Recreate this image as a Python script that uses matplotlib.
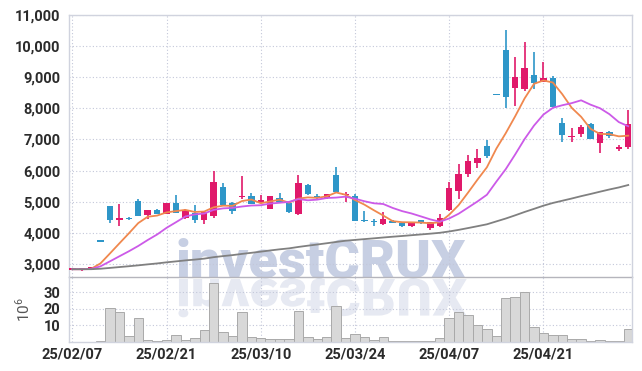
import numpy as np
import pandas as pd
import matplotlib
matplotlib.use('Agg')
import matplotlib.pyplot as plt
from matplotlib.ticker import StrMethodFormatter
from matplotlib.textpath import TextPath
from matplotlib.patches import PathPatch
from matplotlib.font_manager import FontProperties
from matplotlib.transforms import Affine2D

# daily OHLC (KRW)
opens = [2820, 2820, 2800, 3720, 4860, 4420, 4460, 5020, 4575, 4735,
         4610, 4960, 4490, 4640, 4400, 4550, 5480, 4960, 5140, 5170,
         4970, 4770, 5130, 4950, 4610, 5540, 5180, 5110, 5860, 5200,
         5170, 4400, 4350, 4290, 4380, 4330, 4220, 4400, 4170, 4220,
         4735, 5330, 5880, 6240, 6790, 8420, 9875, 8670, 8610, 9070,
         8860, 8960, 7520, 7070, 7180, 7500, 6900, 7250, 6700, 6750]
highs = [2840, 2830, 2890, 3720, 4870, 4930, 4500, 5090, 4740, 4780,
         4960, 5220, 4770, 4900, 4700, 5990, 5600, 4990, 5840, 5270,
         5220, 5190, 5290, 5000, 5860, 5560, 5260, 5250, 6110, 5300,
         5240, 4700, 4430, 4680, 4400, 4340, 4360, 4410, 4350, 4600,
         5640, 6200, 6500, 6700, 6980, 8420, 10520, 9660, 10140, 9800,
         9500, 9040, 7680, 7380, 7480, 7520, 7240, 7260, 6820, 7950]
lows = [2790, 2780, 2800, 3720, 4320, 4220, 4400, 4540, 4450, 4600,
        4600, 4640, 4460, 4300, 4280, 4480, 4880, 4600, 5090, 4920,
        4950, 4760, 4990, 4650, 4560, 5200, 5050, 5080, 5290, 5000,
        4380, 4360, 4230, 4250, 4310, 4200, 4200, 4280, 4100, 4200,
        4700, 5100, 5800, 6080, 6400, 8420, 8000, 8080, 8560, 8610,
        8850, 8050, 6930, 6930, 7090, 7000, 6550, 7040, 6640, 6700]
closes = [2830, 2830, 2890, 3720, 4420, 4450, 4430, 4545, 4735, 4610,
          4960, 4640, 4740, 4400, 4680, 5640, 4900, 4710, 5170, 4930,
          5050, 5180, 5000, 4680, 5590, 5240, 5110, 5240, 5300, 5230,
          4390, 4370, 4340, 4445, 4330, 4220, 4350, 4300, 4340, 4490,
          5430, 5890, 6310, 6420, 6480, 8420, 8380, 9020, 9290, 8830,
          8960, 8055, 7140, 7100, 7390, 7020, 7240, 7110, 6740, 7500]
# volume, millions of shares
volumes = [0, 0, 0.05, 0.6, 20.3, 17.9, 3.4, 14.3, 1.0, 0.4,
           1.0, 4.0, 1.0, 2.2, 7.0, 35.3, 5.8, 3.4, 17.9, 2.8,
           2.2, 1.6, 1.6, 1.6, 18.7, 2.8, 1.6, 2.8, 21.5, 2.2,
           4.6, 2.8, 1.0, 2.8, 0.4, 0.4, 0.4, 0.4, 0.4, 2.2,
           14.3, 17.9, 16.1, 10.1, 7.7, 3.4, 26.3, 26.9, 29.9, 8.9,
           5.2, 4.0, 4.0, 1.6, 1.6, 0.4, 1.0, 0.4, 0.4, 7.7]
prior_close = 2830          # flat price before the window, feeds the moving averages
ma_windows = [5, 10, 60]
ma_colors = ['#f0884e', '#cc5ae8', '#808080']
holidays = ['2025-03-03', '2025-05-01', '2025-05-05', '2025-05-06']

opens, highs, lows, closes = map(np.array, (opens, highs, lows, closes))
n = len(closes)
x = np.arange(n)
dates = pd.bdate_range('2025-02-07', periods=n, freq='C', holidays=holidays)

plt.rcParams['font.family'] = ['Roboto', 'DejaVu Sans']
plt.rcParams['font.weight'] = 'bold'

W, H = 642, 371
fig = plt.figure(figsize=(W / 100, H / 100), dpi=100)
left, right = 69, 632
ax = fig.add_axes([left / W, 1 - 277 / H, (right - left) / W, (277 - 15) / H])
axv = fig.add_axes([left / W, 1 - 342 / H, (right - left) / W, (342 - 277) / H], sharex=ax)
for a in (ax, axv):
    a.patch.set_alpha(0)
    a.set_axisbelow(True)
    a.grid(True, linestyle=(0, (1, 2)), color='#c3c7d9', lw=0.8)
    a.tick_params(length=0, labelsize=10.5, colors='#2b2b2b', pad=6)
    for s in a.spines.values():
        s.set_color('#d0d3de')
        s.set_linewidth(1)
ax.spines['bottom'].set_color('#b5b5bc')
axv.spines['top'].set_visible(False)

# watermark + reflection
wm_x, wm_y, wm_size = 176, H - 277, 39
wm_font = FontProperties(family=['Roboto', 'DejaVu Sans'], weight='black', size=wm_size)
fig.text(wm_x / W, wm_y / H, 'investCRUX', fontproperties=wm_font, color='#c7cfe3',
         ha='left', va='baseline', zorder=-1)
tp = TextPath((0, 0), 'investCRUX', size=wm_size * 100 / 72, prop=wm_font)
refl = PathPatch(tp, transform=Affine2D().scale(1, -0.95).translate(wm_x, wm_y - 2),
                 facecolor='#e6e9f2', edgecolor='none', zorder=-1)
fig.add_artist(refl)

# candles: red up, blue down
up = closes > opens
cols = np.where(up, '#e0196a', '#2e96c8')
ax.vlines(x, lows, highs, colors=cols, lw=1.2, zorder=2)
body_lo = np.minimum(opens, closes)
body_h = np.maximum(np.abs(closes - opens), 45)
ax.bar(x, body_h, bottom=body_lo, width=0.68, color=cols, zorder=3)

# moving averages
hist = pd.Series([prior_close] * (max(ma_windows) - 1) + list(closes))
for w, c in zip(ma_windows, ma_colors):
    ma = hist.rolling(w).mean().values[-n:]
    ax.plot(x, ma, color=c, lw=1.3, zorder=4)

ax.set_ylim(2580, 11000)
ax.set_yticks(np.arange(3000, 11001, 1000))
ax.yaxis.set_major_formatter(StrMethodFormatter('{x:,.0f}'))
ax.tick_params(labelbottom=False)

axv.bar(x, volumes, width=1.0, color='#d8d8d8', edgecolor='#a9a9a9', lw=0.7, zorder=2)
axv.set_ylim(0, 39)
axv.set_yticks([10, 20, 30])
axv.set_ylabel('10$^{\\mathregular{6}}$', fontsize=11, fontweight='normal',
               color='#555555', labelpad=8)

tick_idx = list(range(0, n, 10))
axv.set_xticks(tick_idx)
axv.set_xticklabels([dates[i].strftime('%y/%m/%d') for i in tick_idx])
axv.set_xlim(-0.35, n - 0.6)
axv.tick_params(axis='x', pad=4)

fig.savefig('out.png', dpi=100)
